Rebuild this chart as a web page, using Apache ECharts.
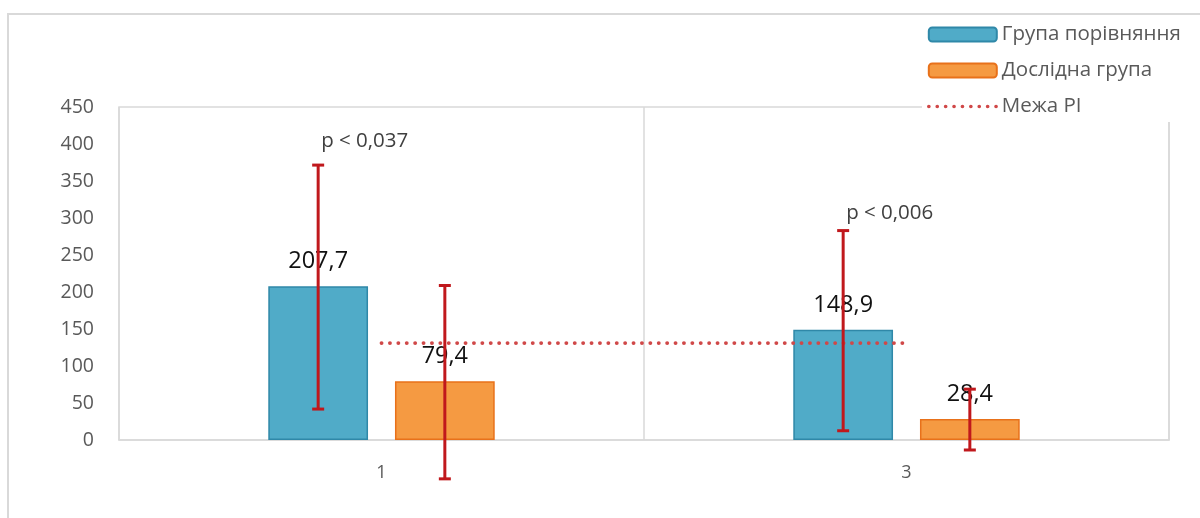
<!DOCTYPE html>
<html>
<head>
<meta charset="utf-8">
<script src="https://cdn.jsdelivr.net/npm/echarts@6/dist/echarts.min.js"></script>
<style>html,body{margin:0;padding:0;background:#fff}#c{width:1200px;height:518px}</style>
</head>
<body>
<div id="c"></div>
<script>
const categories = ['1', '3'];
const compareName = 'Група порівняння';
const studyName = 'Дослідна група';
const limitName = 'Межа PI';
const compareValues = [207.7, 148.9];
const studyValues = [79.4, 28.4];
const compareErrHigh = [371.5, 283];
const compareErrLow = [41.8, 12.5];
const studyErrHigh = [208.8, 68.7];
const studyErrLow = [-52.5, -13.5];
const limitValues = [131, 131];
const pLabels = ['p < 0,037', 'p < 0,006'];
const pLabelY = [404, 307];
const yTicks = { min: 0, max: 450, interval: 50 };

const FONT = 'Open Sans';
const BAR_W = 0.19, BAR_GAP = 0.27;
const chart = echarts.init(document.getElementById('c'), null, { renderer: 'canvas' });

function errSeries(name, hi, lo, sign) {
  return {
    type: 'custom', name: name + '_err', z: 10, clip: false, silent: true,
    data: categories.map((c, i) => [i, hi[i], lo[i]]),
    encode: { x: 0, y: [1, 2] },
    renderItem(params, api) {
      const i = api.value(0);
      const band = api.size([1, 0])[0];
      const off = sign * band * BAR_W * (1 + BAR_GAP) / 2;
      const t = api.coord([i, api.value(1)]);
      const b = api.coord([i, api.value(2)]);
      const x = t[0] + off, cw = 6;
      const st = { stroke: '#c0181c', lineWidth: 3 };
      return { type: 'group', children: [
        { type: 'line', shape: { x1: x, y1: t[1], x2: x, y2: b[1] }, style: st },
        { type: 'line', shape: { x1: x - cw, y1: t[1], x2: x + cw, y2: t[1] }, style: st },
        { type: 'line', shape: { x1: x - cw, y1: b[1], x2: x + cw, y2: b[1] }, style: st }
      ]};
    }
  };
}

const option = {
  animation: false,
  backgroundColor: '#fff',
  textStyle: { fontFamily: FONT },
  graphic: [{ type: 'rect', z: -1, shape: { x: 8, y: 14, width: 1300, height: 600 },
    style: { fill: 'none', stroke: '#d9d9d9', lineWidth: 2 } }],
  grid: { left: 119, right: 31, top: 107, bottom: 78, show: true, borderColor: '#d9d9d9', borderWidth: 1.5 },
  legend: {
    orient: 'vertical', left: 922, top: 18, padding: [5, 10, 4, 5],
    backgroundColor: '#fff', z: 20,
    itemWidth: 68, itemHeight: 14, itemGap: 13,
    textStyle: { fontFamily: FONT, fontSize: 20.5, color: '#595959', lineHeight: 23 },
    data: [compareName, studyName, { name: limitName, itemStyle: { opacity: 0 },
      lineStyle: { color: '#d04848', width: 3.6, type: [0.1, 8.3], cap: 'round' } }]
  },
  xAxis: {
    type: 'category', data: categories,
    axisLine: { lineStyle: { color: '#d9d9d9', width: 1.5 } },
    axisTick: { show: false },
    axisLabel: { fontFamily: FONT, fontSize: 18, color: '#595959', margin: 24 },
    splitLine: { show: true, lineStyle: { color: '#d9d9d9', width: 1.5 } }
  },
  yAxis: {
    type: 'value', min: yTicks.min, max: yTicks.max, interval: yTicks.interval,
    axisLine: { show: false }, axisTick: { show: false }, splitLine: { show: false },
    axisLabel: { fontFamily: FONT, fontSize: 19.5, color: '#595959', margin: 25 }
  },
  series: [
    {
      name: compareName, type: 'bar', data: compareValues,
      barWidth: (BAR_W * 100) + '%', barGap: (BAR_GAP * 100) + '%',
      itemStyle: { color: '#50abc8', borderColor: '#2f88a8', borderWidth: 1.5 },
      label: { show: true, position: 'top', distance: 13, fontFamily: FONT, fontSize: 23.5, color: '#111',
        formatter: p => String(p.value).replace('.', ',') }
    },
    {
      name: studyName, type: 'bar', data: studyValues,
      barWidth: (BAR_W * 100) + '%', barGap: (BAR_GAP * 100) + '%',
      itemStyle: { color: '#f59a42', borderColor: '#e8711a', borderWidth: 1.5 },
      label: { show: true, position: 'top', distance: 13, fontFamily: FONT, fontSize: 23.5, color: '#111',
        formatter: p => String(p.value).replace('.', ',') }
    },
    {
      name: limitName, type: 'line', data: limitValues, symbol: 'none', z: 5,
      itemStyle: { color: '#d04848' },
      lineStyle: { color: '#d04848', width: 3.8, type: [0.1, 8.3], cap: 'round' }
    },
    errSeries(compareName, compareErrHigh, compareErrLow, -1),
    errSeries(studyName, studyErrHigh, studyErrLow, 1),
    {
      type: 'custom', name: 'pvals', z: 11, clip: false, silent: true,
      data: categories.map((c, i) => [i, pLabelY[i]]),
      encode: { x: 0, y: 1 },
      renderItem(params, api) {
        const i = api.value(0);
        const band = api.size([1, 0])[0];
        const off = -band * BAR_W * (1 + BAR_GAP) / 2;
        const p = api.coord([i, api.value(1)]);
        return { type: 'text', x: p[0] + off + 3, y: p[1],
          style: { text: pLabels[params.dataIndex], fontFamily: FONT, fontSize: 20.5, fill: '#404040',
            align: 'left', verticalAlign: 'middle' } };
      }
    }
  ]
};
chart.setOption(option);
</script>
</body>
</html>
